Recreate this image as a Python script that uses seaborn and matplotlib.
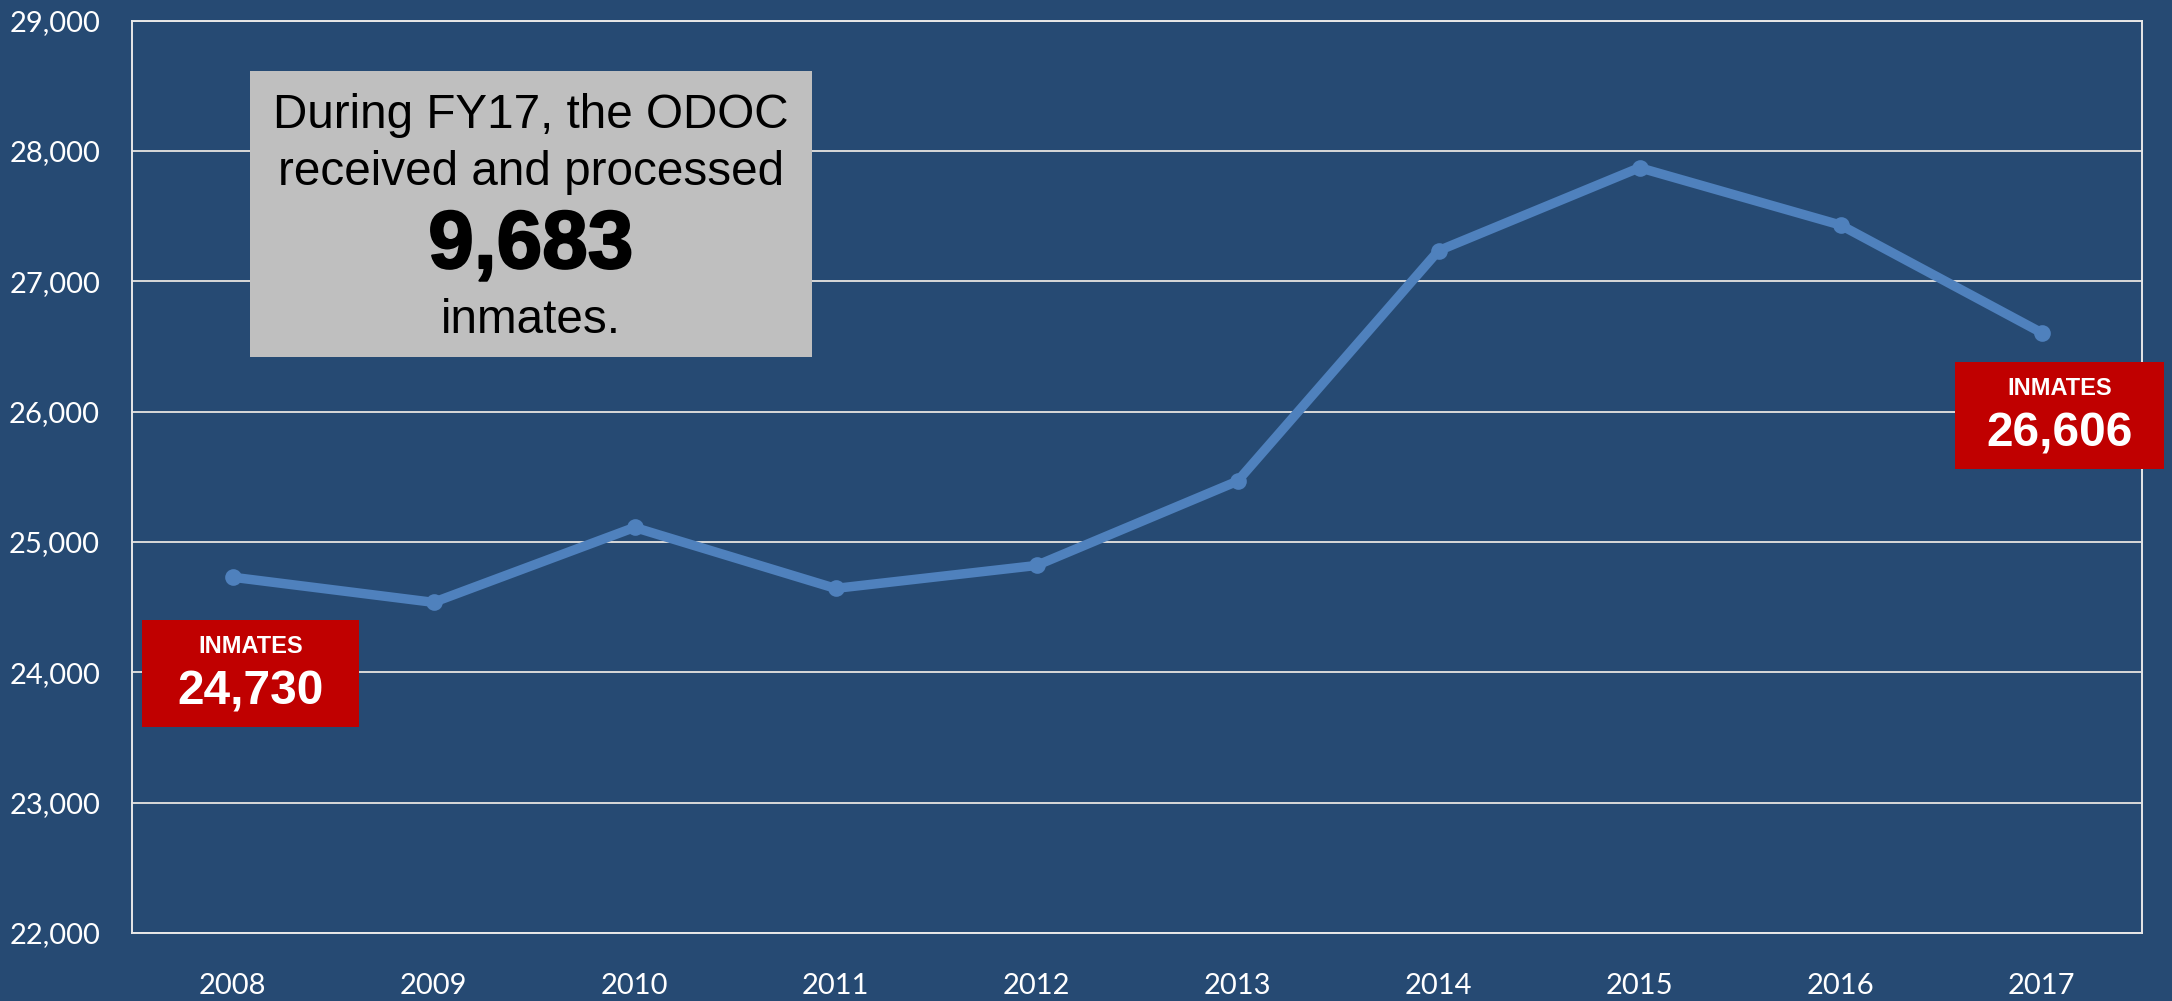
import matplotlib
matplotlib.use("Agg")
import matplotlib.pyplot as plt
from matplotlib.patches import Rectangle
from matplotlib.ticker import FuncFormatter
import matplotlib.patheffects as pe
import numpy as np
import pandas as pd
import seaborn as sns

# ---------------- data ----------------
years = [2008, 2009, 2010, 2011, 2012, 2013, 2014, 2015, 2016, 2017]
inmates = [24730, 24537, 25112, 24644, 24820, 25467, 27235, 27872, 27432, 26606]
y_ticks = [22000, 23000, 24000, 25000, 26000, 27000, 28000, 29000]
processed_fy17 = 9683
note_lines = ["During FY17, the ODOC", "received and processed"]
note_tail = "inmates."
badge_label = "INMATES"

# ---------------- style ----------------
BG = "#264A73"
LINE = "#4F81BD"
GRID = "#D9D9D9"
RED = "#C00000"
GRAYBOX = "#BFBFBF"

W, H = 2172, 1001

sns.set_style("white")
plt.rcParams["font.family"] = ["Lato", "DejaVu Sans"]

fig = plt.figure(figsize=(W / 100, H / 100), dpi=100, facecolor=BG)


def fx(px):
    return px / W


def fy(py):
    return 1 - py / H


ax_left, ax_right, ax_top, ax_bottom = 132, 2142, 20.7, 933
ax = fig.add_axes([fx(ax_left), fy(ax_bottom), fx(ax_right - ax_left), (ax_bottom - ax_top) / H])
ax.set_facecolor(BG)

df = pd.DataFrame({"year": years, "inmates": inmates})
sns.lineplot(data=df, x="year", y="inmates", ax=ax, color=LINE, linewidth=6.8,
             marker="o", markersize=12, markeredgewidth=0, zorder=3)

ax.set_xlim(years[0] - 0.5, years[-1] + 0.5)
ax.set_ylim(y_ticks[0], y_ticks[-1])
ax.set_xticks(years)
ax.set_xticklabels([str(y) for y in years])
ax.set_yticks(y_ticks)
ax.yaxis.set_major_formatter(FuncFormatter(lambda v, p: f"{int(v):,}"))
ax.set_xlabel("")
ax.set_ylabel("")
ax.grid(axis="y", color=GRID, linewidth=1.4, zorder=1)
ax.grid(axis="x", visible=False)
for s in ax.spines.values():
    s.set_visible(True)
    s.set_color("#E8E8E8")
    s.set_linewidth(1.4)
ax.tick_params(axis="both", length=0, colors="white", labelsize=21)
ax.tick_params(axis="y", pad=23)
ax.tick_params(axis="x", pad=29)

# ---------------- gray note box ----------------
gx0, gx1, gy0, gy1 = 250, 812, 71, 357
fig.add_artist(Rectangle((fx(gx0), fy(gy1)), fx(gx1 - gx0), (gy1 - gy0) / H,
                         transform=fig.transFigure, facecolor=GRAYBOX, edgecolor="none", zorder=5))
gcx = (gx0 + gx1) / 2
box_font = ["Liberation Sans", "DejaVu Sans"]
fig.text(fx(gcx), fy(128), note_lines[0], ha="center", va="baseline", fontsize=34.3,
         family=box_font, color="black", zorder=6)
fig.text(fx(gcx), fy(185), note_lines[1], ha="center", va="baseline", fontsize=34.3,
         family=box_font, color="black", zorder=6)
fig.text(fx(gcx), fy(268), f"{processed_fy17:,}", ha="center", va="baseline", fontsize=59,
         family=box_font, fontweight="bold", color="black", zorder=6,
         path_effects=[pe.withStroke(linewidth=1.5, foreground="black")])
fig.text(fx(gcx), fy(333), note_tail, ha="center", va="baseline", fontsize=34.3,
         family=box_font, color="black", zorder=6)


# ---------------- red badges ----------------
def badge(x0, x1, y0, y1, value):
    fig.add_artist(Rectangle((fx(x0), fy(y1)), fx(x1 - x0), (y1 - y0) / H,
                             transform=fig.transFigure, facecolor=RED, edgecolor="none", zorder=5))
    cx = (x0 + x1) / 2
    fig.text(fx(cx), fy(y0 + 33), badge_label, ha="center", va="baseline", fontsize=17,
             family=box_font, fontweight="bold", color="white", zorder=6)
    fig.text(fx(cx), fy(y0 + 85), f"{value:,}", ha="center", va="baseline", fontsize=34.5,
             family=box_font, fontweight="bold", color="white", zorder=6)


badge(141.7, 359, 620, 727, inmates[0])
badge(1955, 2164, 362, 469, inmates[-1])

fig.savefig("out.png", dpi=100, facecolor=BG)
